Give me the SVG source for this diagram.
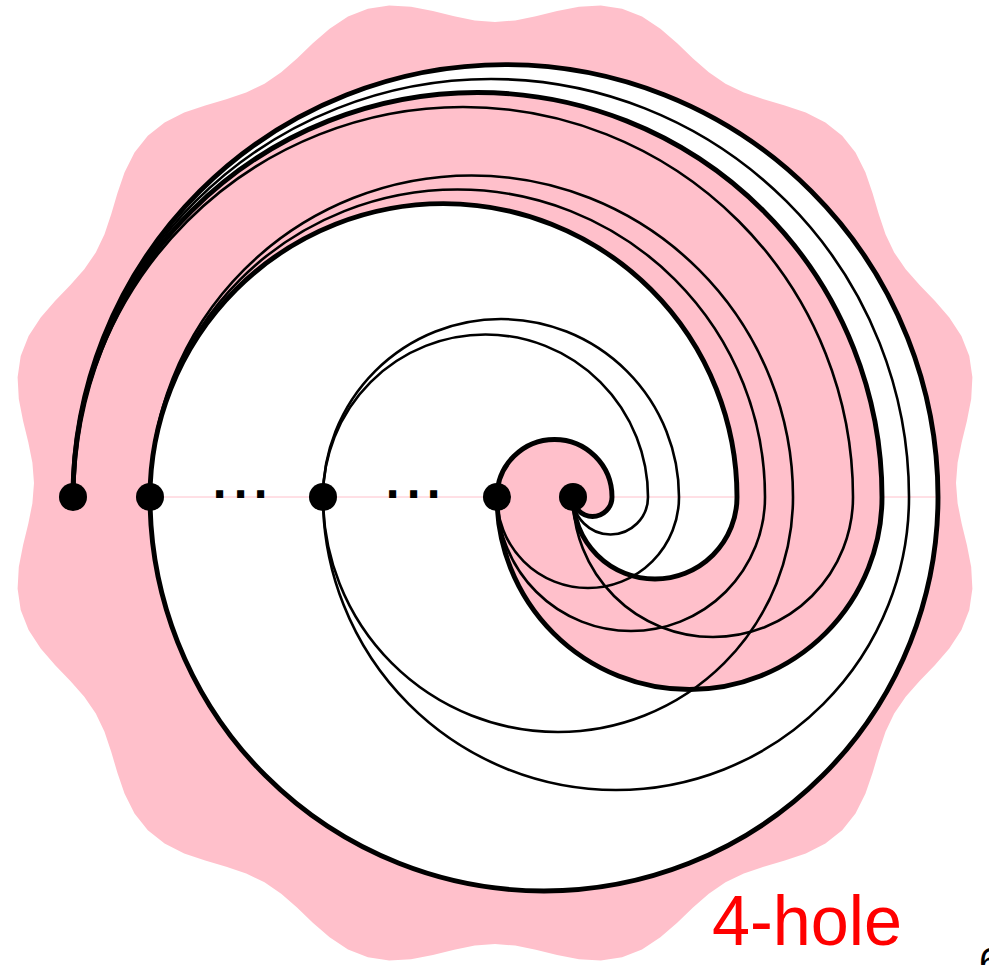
<svg xmlns="http://www.w3.org/2000/svg" width="989" height="965" viewBox="0 0 989 965">
<style>
.thick{fill:none;stroke:#000;stroke-width:4.9}
.thin{fill:none;stroke:#000;stroke-width:2.6}
.dot{fill:#000}
.ell{font-family:"DejaVu Sans",sans-serif;font-weight:bold;font-size:40px;fill:#000}
</style>
<rect width="989" height="965" fill="#fff"/>
<polygon id="blob" fill="#ffc0cb" points="956.0,483.0 957.6,462.8 961.7,442.2 966.9,420.9 971.2,399.0 972.4,377.2 969.3,355.9 961.4,336.0 949.3,317.6 934.8,300.8 919.6,285.0 905.7,269.2 894.2,252.5 885.5,234.2 878.8,214.3 872.6,193.2 865.4,172.2 855.5,152.6 842.2,135.8 825.4,122.5 805.8,112.6 784.8,105.4 763.7,99.2 743.8,92.5 725.5,83.8 708.8,72.3 693.0,58.4 677.2,43.2 660.4,28.7 642.0,16.6 622.1,8.7 600.8,5.6 579.0,6.8 557.1,11.1 535.8,16.3 515.2,20.4 495.0,22.0 474.8,20.4 454.2,16.3 432.9,11.1 411.0,6.8 389.2,5.6 367.9,8.7 348.0,16.6 329.6,28.7 312.8,43.2 297.0,58.4 281.2,72.3 264.5,83.8 246.2,92.5 226.3,99.2 205.2,105.4 184.2,112.6 164.6,122.5 147.8,135.8 134.5,152.6 124.6,172.2 117.4,193.2 111.2,214.3 104.5,234.2 95.8,252.5 84.3,269.2 70.4,285.0 55.2,300.8 40.7,317.6 28.6,336.0 20.7,355.9 17.6,377.2 18.8,399.0 23.1,420.9 28.3,442.2 32.4,462.8 34.0,483.0 32.4,503.2 28.3,523.8 23.1,545.1 18.8,567.0 17.6,588.8 20.7,610.1 28.6,630.0 40.7,648.4 55.2,665.2 70.4,681.0 84.3,696.8 95.8,713.5 104.5,731.8 111.2,751.7 117.4,772.8 124.6,793.8 134.5,813.4 147.8,830.2 164.6,843.5 184.2,853.4 205.2,860.6 226.3,866.8 246.2,873.5 264.5,882.2 281.2,893.7 297.0,907.6 312.8,922.8 329.6,937.3 348.0,949.4 367.9,957.3 389.2,960.4 411.0,959.2 432.9,954.9 454.2,949.7 474.8,945.6 495.0,944.0 515.2,945.6 535.8,949.7 557.1,954.9 579.0,959.2 600.8,960.4 622.1,957.3 642.0,949.4 660.4,937.3 677.2,922.8 693.0,907.6 708.8,893.7 725.5,882.2 743.8,873.5 763.7,866.8 784.8,860.6 805.8,853.4 825.4,843.5 842.2,830.2 855.5,813.4 865.4,793.8 872.6,772.8 878.8,751.7 885.5,731.8 894.2,713.5 905.7,696.8 919.6,681.0 934.8,665.2 949.3,648.4 961.4,630.0 969.3,610.1 972.4,588.8 971.2,567.0 966.9,545.1 961.7,523.8 957.6,503.2"/>
<path id="band" fill="#fff" d="M73 497 A432.5 432.5 0 0 1 938 497 A394 394 0 0 1 150 497 A293.5 293.5 0 0 1 737 497 A82 82 0 0 1 573 497 A19.5 19.5 0 0 0 612 497 A57.5 57.5 0 0 0 497 497 A192.5 192.5 0 0 0 882 497 A404.5 404.5 0 0 0 73 497 Z"/>
<line x1="150" y1="497" x2="938" y2="497" stroke="#ffc0cb" stroke-width="1"/>
<g id="connectors">
<path class="thick" d="M73 497 A432.5 432.5 0 0 1 938 497"/>
<path class="thin" d="M73 497 A418 418 0 0 1 909 497"/>
<path class="thick" d="M73 497 A404.5 404.5 0 0 1 882 497"/>
<path class="thin" d="M73 497 A390 390 0 0 1 853 497"/>
<path class="thin" d="M150 497 A321.5 321.5 0 0 1 793 497"/>
<path class="thin" d="M150 497 A307.5 307.5 0 0 1 765 497"/>
<path class="thick" d="M150 497 A293.5 293.5 0 0 1 737 497"/>
<path class="thin" d="M323 497 A178 178 0 0 1 679 497"/>
<path class="thin" d="M323 497 A162.5 162.5 0 0 1 648 497"/>
<path class="thick" d="M497 497 A57.5 57.5 0 0 1 612 497"/>
<path class="thick" d="M150 497 A394 394 0 0 0 938 497"/>
<path class="thin" d="M323 497 A293 293 0 0 0 909 497"/>
<path class="thin" d="M323 497 A235 235 0 0 0 793 497"/>
<path class="thick" d="M497 497 A192.5 192.5 0 0 0 882 497"/>
<path class="thin" d="M573 497 A140 140 0 0 0 853 497"/>
<path class="thin" d="M497 497 A134 134 0 0 0 765 497"/>
<path class="thin" d="M497 497 A91 91 0 0 0 679 497"/>
<path class="thick" d="M573 497 A82 82 0 0 0 737 497"/>
<path class="thin" d="M573 497 A37.5 37.5 0 0 0 648 497"/>
<path class="thick" d="M573 497 A19.5 19.5 0 0 0 612 497"/>
</g>
<g id="p0"><circle class="dot" cx="73" cy="497" r="14"/></g>
<g id="p1"><circle class="dot" cx="150" cy="497" r="14"/></g>
<g id="p2"><circle class="dot" cx="323" cy="497" r="14"/></g>
<g id="p3"><circle class="dot" cx="497" cy="497" r="14"/></g>
<g id="p4"><circle class="dot" cx="573" cy="497" r="14"/></g>
<text class="ell" x="212 233 253" y="498">...</text>
<text class="ell" x="385 406 426" y="498">...</text>
<text x="712" y="945" font-family="Liberation Sans, Arial, sans-serif" font-size="70" fill="#f00" textLength="190" lengthAdjust="spacingAndGlyphs">4-hole</text>
<text x="979" y="976" font-family="Liberation Sans, Arial, sans-serif" font-size="40" fill="#000">6</text>
</svg>
